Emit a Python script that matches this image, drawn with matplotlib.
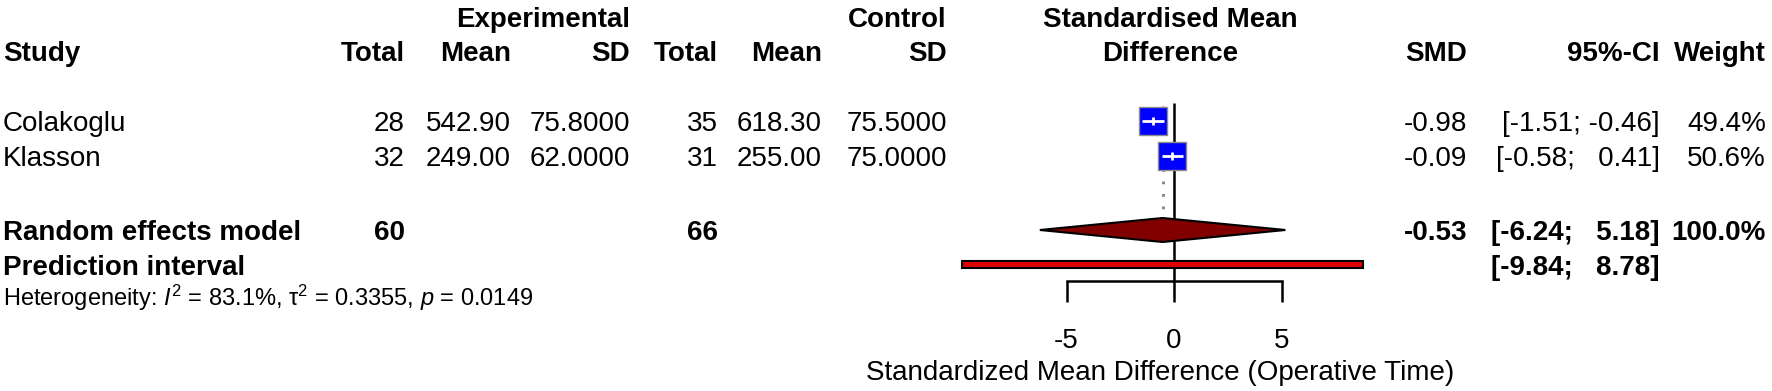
"""
Forest plot: SMD of operative time, experimental vs control (random effects).
"""

import numpy as np
import matplotlib
matplotlib.use("Agg")
import matplotlib.pyplot as plt
from matplotlib.patches import Polygon, Rectangle

plt.rcParams["font.family"] = ["Liberation Sans", "DejaVu Sans"]
plt.rcParams["mathtext.fontset"] = "custom"
plt.rcParams["mathtext.rm"] = "Liberation Sans"
plt.rcParams["mathtext.it"] = "Liberation Sans:italic"

# ── data ─────────────────────────────────────────────────────────────────────
studies   = ["Colakoglu", "Klasson"]
n_exp     = [28, 32]
mean_exp  = [542.90, 249.00]
sd_exp    = [75.8, 62.0]
n_ctrl    = [35, 31]
mean_ctrl = [618.30, 255.00]
sd_ctrl   = [75.5, 75.0]
smd       = [-0.98, -0.09]
ci_lo     = [-1.51, -0.58]
ci_hi     = [-0.46, 0.41]
weight    = [49.4, 50.6]

re_smd, re_lo, re_hi = -0.53, -6.24, 5.18
pi_lo, pi_hi = -9.84, 8.78
het_i2, het_tau2, het_p = 83.1, 0.3355, 0.0149
ticks = [-5, 0, 5]
xlab = "Standardized Mean Difference (Operative Time)"

# ── layout (pixels, from top-left) ───────────────────────────────────────────
W, H, DPI = 1772, 391, 100
FS, FS_HET = 20, 17
Y_H1, Y_H2 = 17, 51
Y_ST = [121, 156]
Y_RE, Y_PI, Y_HET = 230, 265, 297
COL = dict(n_e=405, m_e=511, s_e=630, n_c=718, m_c=822, s_c=947,
           smd=1467, ci=1660, w=1766)
ZERO_PX, PX_PER = 1174, 21.5
AX_X0, AX_X1, AX_Y0, AX_Y1 = 900, 1450, 95, 281
SQ_PX = 28


def base(y, fs=FS):
    # row centre -> baseline (cap height of Arial-like font ~0.716 em)
    return y + 0.358 * fs * DPI / 72


def ci_str(lo, hi):
    return f"[{lo:5.2f}; {hi:5.2f}]".replace("[ ", "[").replace("; ", ";  ") \
        if hi >= 0 else f"[{lo:.2f}; {hi:.2f}]"


fig = plt.figure(figsize=(W / DPI, H / DPI), dpi=DPI)
lay = fig.add_axes([0, 0, 1, 1])
lay.set_xlim(0, W)
lay.set_ylim(H, 0)
lay.axis("off")


def txt(x, y, s, ha="right", bold=False, fs=FS):
    lay.text(x, base(y, fs), s, ha=ha, va="baseline", fontsize=fs,
             fontweight="bold" if bold else "normal", color="black")


# headers
txt(COL["s_e"], Y_H1, "Experimental", bold=True)
txt(COL["s_c"], Y_H1, "Control", bold=True)
txt(1170, Y_H1, "Standardised Mean", ha="center", bold=True)
txt(3, Y_H2, "Study", ha="left", bold=True)
for key, lab in [("n_e", "Total"), ("m_e", "Mean"), ("s_e", "SD"),
                 ("n_c", "Total"), ("m_c", "Mean"), ("s_c", "SD"),
                 ("smd", "SMD"), ("ci", "95%-CI"), ("w", "Weight")]:
    txt(COL[key], Y_H2, lab, bold=True)
txt(1170, Y_H2, "Difference", ha="center", bold=True)

# study rows
for i, y in enumerate(Y_ST):
    txt(3, y, studies[i], ha="left")
    txt(COL["n_e"], y, f"{n_exp[i]}")
    txt(COL["m_e"], y, f"{mean_exp[i]:.2f}")
    txt(COL["s_e"], y, f"{sd_exp[i]:.4f}")
    txt(COL["n_c"], y, f"{n_ctrl[i]}")
    txt(COL["m_c"], y, f"{mean_ctrl[i]:.2f}")
    txt(COL["s_c"], y, f"{sd_ctrl[i]:.4f}")
    txt(COL["smd"], y, f"{smd[i]:.2f}")
    txt(COL["ci"], y, ci_str(ci_lo[i], ci_hi[i]))
    txt(COL["w"], y, f"{weight[i]:.1f}%")

# summary rows
txt(3, Y_RE, "Random effects model", ha="left", bold=True)
txt(COL["n_e"], Y_RE, f"{sum(n_exp)}", bold=True)
txt(COL["n_c"], Y_RE, f"{sum(n_ctrl)}", bold=True)
txt(COL["smd"], Y_RE, f"{re_smd:.2f}", bold=True)
txt(COL["ci"], Y_RE, ci_str(re_lo, re_hi), bold=True)
txt(COL["w"], Y_RE, f"{sum(weight):.1f}%", bold=True)
txt(3, Y_PI, "Prediction interval", ha="left", bold=True)
txt(COL["ci"], Y_PI, ci_str(pi_lo, pi_hi), bold=True)
txt(3, Y_HET, f"Heterogeneity: $I^2$ = {het_i2:.1f}%, τ$^2$ = {het_tau2:.4f}, "
              f"$p$ = {het_p:.4f}", ha="left", fs=FS_HET)

# x label
txt(1160, 370, xlab, ha="center")

# ── forest panel ─────────────────────────────────────────────────────────────
ax = fig.add_axes([AX_X0 / W, (H - AX_Y1) / H,
                   (AX_X1 - AX_X0) / W, (AX_Y1 - AX_Y0) / H])
ax.set_xlim((AX_X0 - ZERO_PX) / PX_PER, (AX_X1 - ZERO_PX) / PX_PER)
ax.set_ylim(AX_Y1, AX_Y0)
ax.patch.set_alpha(0)
for side in ["left", "right", "top"]:
    ax.spines[side].set_visible(False)
ax.spines["bottom"].set_bounds(min(ticks), max(ticks))
ax.spines["bottom"].set_linewidth(1.8)
ax.set_yticks([])
ax.set_xticks(ticks)
ax.set_xticklabels([str(t) for t in ticks])
ax.tick_params(axis="x", direction="out", length=21 * 72 / DPI, width=1.8,
               labelsize=FS, pad=18.5)

# line of no effect
ax.vlines(0, 103, AX_Y1, color="black", lw=1.8, zorder=2)
# dotted line at pooled estimate
ax.vlines(re_smd, 106, Y_RE - 12, color="gray", lw=2,
          linestyles=(0, (1, 3.5)), zorder=1)

# study squares + CIs
for i, y in enumerate(Y_ST):
    side_px = SQ_PX * np.sqrt(weight[i] / 50.0)
    hw = side_px / 2 / PX_PER
    ax.hlines(y, ci_lo[i], ci_hi[i], color="black", lw=1.8, zorder=3)
    ax.scatter([smd[i]], [y], marker="s", s=(side_px * 72 / DPI) ** 2,
               color="#0000FF", edgecolors="#8c8c8c", linewidths=1, zorder=4)
    ax.hlines(y, max(ci_lo[i], smd[i] - hw), min(ci_hi[i], smd[i] + hw),
              color="white", lw=2, zorder=5)
    ax.vlines(smd[i], y - 4, y + 4, color="white", lw=2, zorder=5)

# pooled diamond
ax.add_patch(Polygon([(re_lo, Y_RE), (re_smd, Y_RE - 12), (re_hi, Y_RE),
                      (re_smd, Y_RE + 12)], closed=True, fc="#800000",
                     ec="black", lw=1.5, zorder=4))
# prediction interval
ax.add_patch(Rectangle((pi_lo, Y_PI - 3.5), pi_hi - pi_lo, 7, fc="#E00000",
                       ec="black", lw=1.5, zorder=4, clip_on=False))

fig.savefig("out.png", dpi=DPI)
